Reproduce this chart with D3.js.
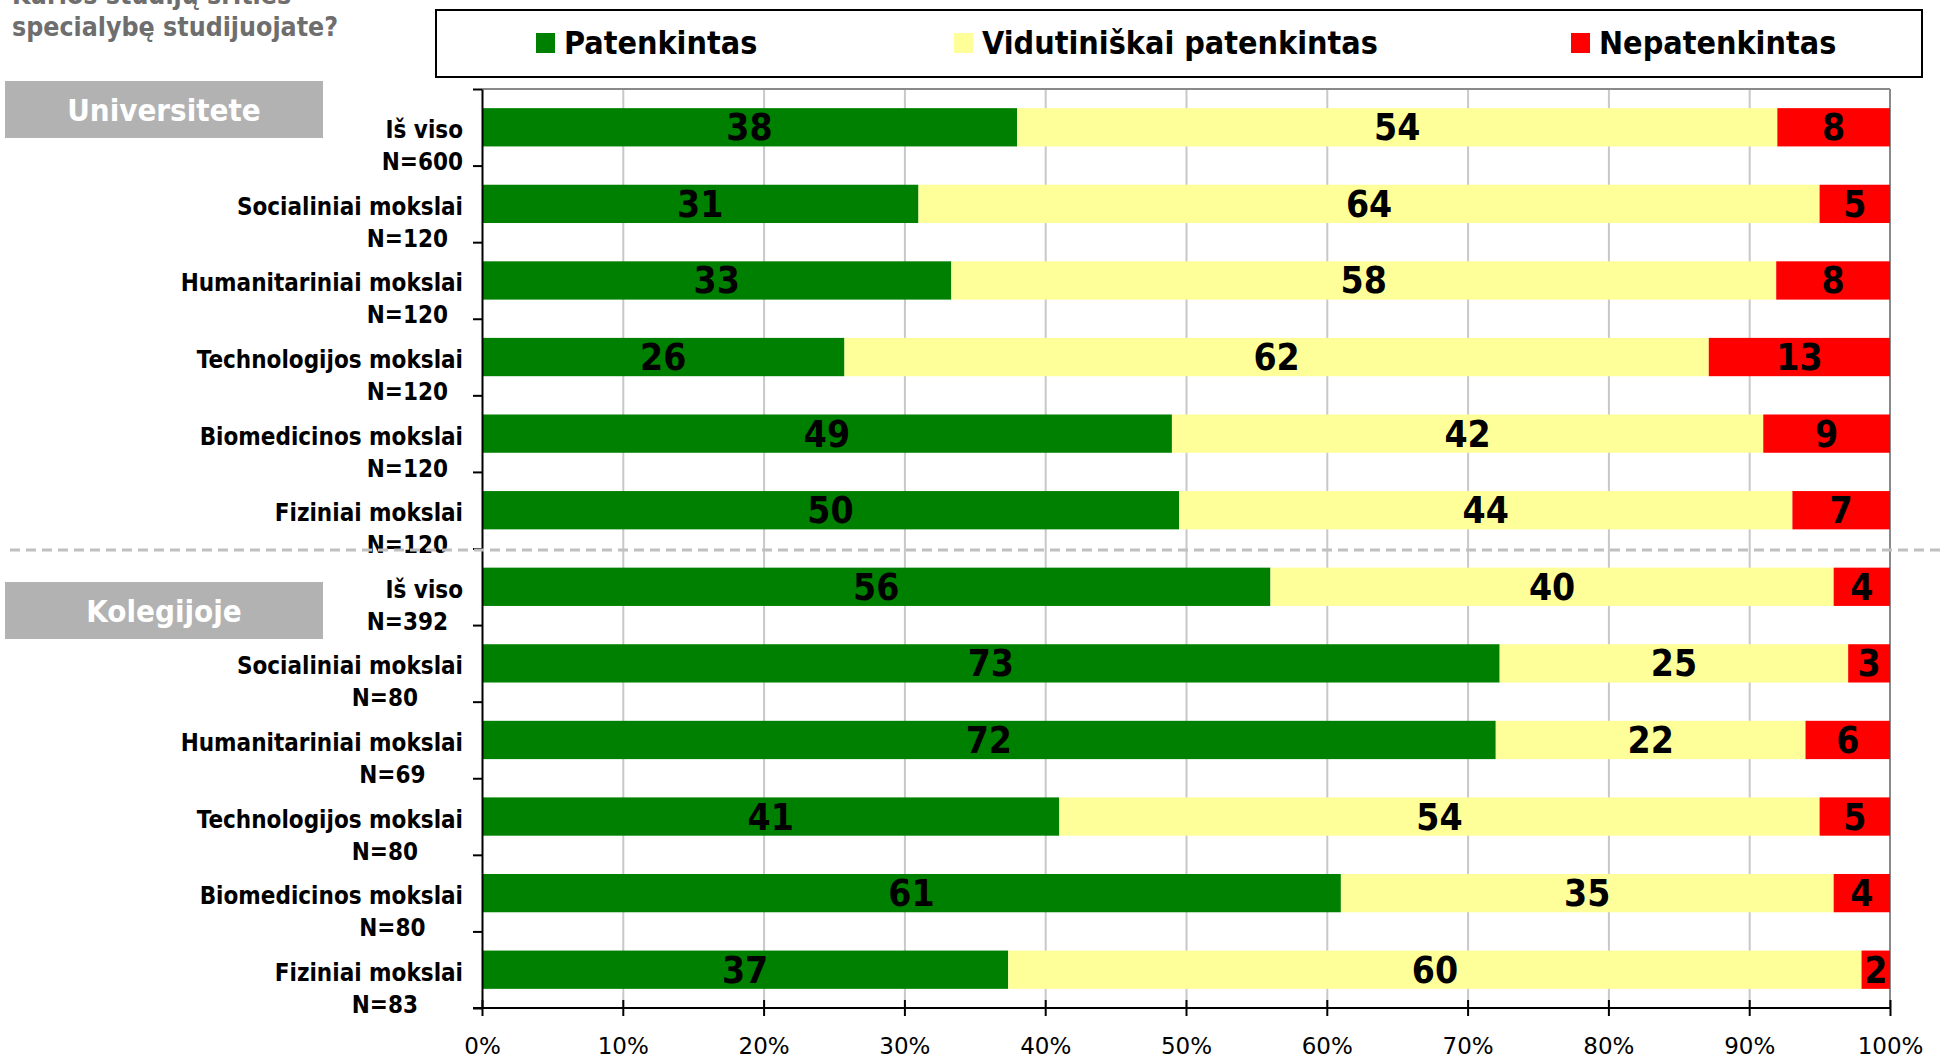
<!DOCTYPE html>
<html>
<head>
    <meta charset="utf-8">
    <title>Kurios studijų srities specialybę studijuojate?</title>
    <style type="text/css">
        body { margin: 0; background: #fff; }
        svg text { font-family: 'DejaVu Sans Condensed', 'DejaVu Sans', sans-serif; font-stretch: condensed; }
        .cat text { font-weight: bold; font-size: 24px; fill: #000; }
        .val { font-weight: bold; font-size: 37px; fill: #000; }
        .grid line { stroke: #c8c8c8; stroke-width: 2; }
        .grid path { display: none; }
        .xAxis path, .xAxis line { stroke: #000; stroke-width: 2; }
        .xAxis text { font-family: 'DejaVu Sans', sans-serif; font-stretch: normal; font-size: 23px; fill: #000; }
        .yAxis path, .yAxis line { stroke: #000; stroke-width: 2; }
    </style>
</head>
<body>
<script src="https://cdn.jsdelivr.net/npm/d3@7"></script>
<script type="text/javascript">
    /*========= DATA =========*/
    var title = ["Kurios studijų srities", "specialybę studijuojate?"];
    var groups = ["Universitete", "Kolegijoje"];
    var categories = ["Iš viso", "Socialiniai mokslai", "Humanitariniai mokslai", "Technologijos mokslai",
        "Biomedicinos mokslai", "Fiziniai mokslai",
        "Iš viso", "Socialiniai mokslai", "Humanitariniai mokslai", "Technologijos mokslai",
        "Biomedicinos mokslai", "Fiziniai mokslai"];
    var sampleSizes = ["N=600", "N=120  ", "N=120  ", "N=120  ", "N=120  ", "N=120  ",
        "N=392  ", "N=80      ", "N=69     ", "N=80      ", "N=80     ", "N=83      "];
    var seriesNames = ["Patenkintas", "Vidutiniškai patenkintas", "Nepatenkintas"];
    var patenkintas   = [38, 31, 33, 26, 49, 50, 56, 73, 72, 41, 61, 37];
    var vidutiniskai  = [54, 64, 58, 62, 42, 44, 40, 25, 22, 54, 35, 60];
    var nepatenkintas = [8, 5, 8, 13, 9, 7, 4, 3, 6, 5, 4, 2];
    var xTicks = [0, 0.1, 0.2, 0.3, 0.4, 0.5, 0.6, 0.7, 0.8, 0.9, 1];

    /*========= COLOR =========*/
    var colors = ["#008000", "#ffff99", "#ff0000"];

    /*========= SIZE =========*/
    var svgWidth = 1942, svgHeight = 1059;
    var plot = { left: 482, right: 1890, top: 89, bottom: 1008 };

    var rows = categories.map(function (c, i) {
        return { i: i, cat: c, n: sampleSizes[i], s0: patenkintas[i], s1: vidutiniskai[i], s2: nepatenkintas[i] };
    });
    var keys = ["s0", "s1", "s2"];
    var stacked = d3.stack().keys(keys).offset(d3.stackOffsetExpand)(rows);

    // scales
    var x = d3.scaleLinear().domain([0, 1]).range([plot.left, plot.right]);
    var y = d3.scaleBand().domain(d3.range(rows.length)).range([plot.top, plot.bottom])
        .paddingInner(0.5).paddingOuter(0.25);
    var yEdge = d3.scaleLinear().domain([0, rows.length]).range([plot.top, plot.bottom]);

    var svg = d3.select("body").append("svg").attr("width", svgWidth).attr("height", svgHeight);

    // title (cut off at the top)
    svg.append("g").selectAll("text").data(title).enter().append("text")
        .attr("x", 12).attr("y", function (d, i) { return 4 + i * 32; })
        .style("font-size", "26.5px").style("font-weight", "bold").attr("fill", "#6e6e6e")
        .text(function (d) { return d; });

    // legend
    var legend = svg.append("g");
    legend.append("rect").attr("x", 436).attr("y", 10).attr("width", 1486).attr("height", 67)
        .attr("fill", "#fff").attr("stroke", "#000").attr("stroke-width", 2);
    var legendX = [536, 954, 1571];
    var li = legend.selectAll(".li").data(seriesNames).enter().append("g")
        .attr("transform", function (d, i) { return "translate(" + legendX[i] + ",0)"; });
    li.append("rect").attr("x", 0).attr("y", 33).attr("width", 19).attr("height", 20)
        .attr("fill", function (d, i) { return colors[i]; });
    li.append("text").attr("x", 28).attr("y", 54)
        .style("font-size", "32px").style("font-weight", "bold").text(function (d) { return d; });

    // gridlines
    svg.append("g").attr("class", "grid")
        .attr("transform", "translate(0," + plot.bottom + ")")
        .call(d3.axisBottom(x).tickValues(xTicks.slice(1, -1)).tickSize(-(plot.bottom - plot.top)).tickFormat(""));

    // plot frame top / right
    svg.append("line").attr("x1", plot.left).attr("x2", plot.right).attr("y1", plot.top).attr("y2", plot.top)
        .attr("stroke", "#8a8a8a").attr("stroke-width", 2);
    svg.append("line").attr("x1", plot.right).attr("x2", plot.right).attr("y1", plot.top).attr("y2", plot.bottom)
        .attr("stroke", "#8a8a8a").attr("stroke-width", 2);

    // bars
    var layers = svg.append("g").selectAll(".layer").data(stacked).enter().append("g")
        .attr("fill", function (d, i) { return colors[i]; });
    layers.selectAll("rect").data(function (d) { return d; }).enter().append("rect")
        .attr("x", function (d) { return x(d[0]); })
        .attr("width", function (d) { return x(d[1]) - x(d[0]); })
        .attr("y", function (d) { return y(d.data.i); })
        .attr("height", y.bandwidth());

    // value labels
    var labelG = svg.append("g");
    stacked.forEach(function (layer) {
        labelG.selectAll(".v-" + layer.key).data(layer).enter().append("text")
            .attr("class", "val").attr("text-anchor", "middle")
            .attr("x", function (d) { return (x(d[0]) + x(d[1])) / 2; })
            .attr("y", function (d) { return y(d.data.i) + y.bandwidth() / 2 + 13; })
            .text(function (d) { return d.data[layer.key]; });
    });

    // axes
    svg.append("g").attr("class", "yAxis")
        .attr("transform", "translate(" + plot.left + ",0)")
        .call(d3.axisLeft(yEdge).ticks(rows.length).tickSize(9).tickSizeOuter(0).tickFormat(""));
    var xAxis = svg.append("g").attr("class", "xAxis")
        .attr("transform", "translate(0," + plot.bottom + ")")
        .call(d3.axisBottom(x).tickValues(xTicks).tickSize(8).tickSizeOuter(0).tickPadding(22)
            .tickFormat(d3.format(".0%")));
    xAxis.select(".domain").attr("d", "M" + (plot.left - 9) + ",0H" + plot.right).attr("stroke-width", 3);
    xAxis.selectAll(".tick line").attr("y1", -8);

    // category labels (trailing spaces kept as no-break spaces)
    var cat = svg.append("g").attr("class", "cat").selectAll("g").data(rows).enter().append("g")
        .attr("transform", function (d) { return "translate(463," + (y(d.i) + y.bandwidth() / 2) + ")"; });
    cat.append("text").attr("text-anchor", "end").attr("y", 11).text(function (d) { return d.cat; });
    cat.append("text").attr("text-anchor", "end").attr("y", 43)
        .text(function (d) { return d.n.replace(/ /g, "\u00a0"); });

    // separator
    svg.append("line").attr("x1", 10).attr("x2", svgWidth).attr("y1", 550).attr("y2", 550)
        .attr("stroke", "#c0c0c0").attr("stroke-width", 3).attr("stroke-dasharray", "10,6");

    // group boxes
    var groupY = [81, 582];
    var gb = svg.append("g").selectAll("g").data(groups).enter().append("g")
        .attr("transform", function (d, i) { return "translate(5," + groupY[i] + ")"; });
    gb.append("rect").attr("width", 318).attr("height", 57).attr("fill", "#b2b2b2");
    gb.append("text").attr("x", 159).attr("y", 40).attr("text-anchor", "middle")
        .style("font-size", "31px").style("font-weight", "bold").attr("fill", "#fff")
        .text(function (d) { return d; });
</script>
</body>
</html>
